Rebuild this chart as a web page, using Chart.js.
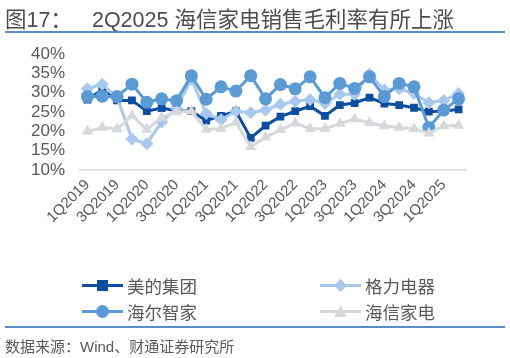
<!DOCTYPE html>
<html>
<head>
<meta charset="utf-8">
<script src="https://cdn.jsdelivr.net/npm/chart.js@4"></script>
<style>
  body { margin: 0; background: #fff; }
  #wrap { position: relative; width: 510px; height: 358px; overflow: hidden;
          font-family: "Liberation Sans", Arial, "Noto Sans CJK SC", sans-serif; color: #595959; }
  #myChart { position: absolute; left: 0; top: 0; }
  .title { position: absolute; left: 5px; top: 2px; font-size: 21.5px; white-space: nowrap; color: #4d4d4d; }
  .title span { margin-left: 20px; }
  .rule { position: absolute; left: 5px; width: 500px; height: 2px; background: #5B8CC8; }
  .source { position: absolute; left: 5px; top: 335px; font-size: 15px; white-space: nowrap; }
  .leg { position: absolute; display: flex; align-items: center; font-size: 17.5px; white-space: nowrap; }
  .leg svg { margin-right: 4px; }
</style>
</head>
<body>
<div id="wrap">
  <canvas id="myChart" width="510" height="358"></canvas>
  <div class="title">图17：<span>2Q2025 海信家电销售毛利率有所上涨</span></div>
  <div class="rule" style="top:31px"></div>
  <div id="legend"></div>
  <div class="rule" style="top:326px"></div>
  <div class="source">数据来源：Wind、财通证券研究所</div>
</div>
<script>
  const quarters = ['1Q2019','2Q2019','3Q2019','4Q2019','1Q2020','2Q2020','3Q2020','4Q2020',
                    '1Q2021','2Q2021','3Q2021','4Q2021','1Q2022','2Q2022','3Q2022','4Q2022',
                    '1Q2023','2Q2023','3Q2023','4Q2023','1Q2024','2Q2024','3Q2024','4Q2024',
                    '1Q2025','2Q2025'];

  const midea   = [28.2, 30.8, 28.0, 28.0, 25.2, 26.0, 25.3, 25.2, 22.8, 24.0, 25.2, 18.3, 21.5,
                   23.8, 25.2, 26.5, 24.0, 26.8, 27.3, 28.7, 27.2, 26.8, 26.1, 25.1, 25.2, 25.7];
  const gree    = [31.0, 32.2, 28.8, 18.0, 16.8, 22.4, 26.0, 33.5, 24.6, 23.0, 25.2, 24.8, 25.5,
                   27.0, 27.7, 28.2, 27.2, 29.6, 29.6, 34.8, 30.7, 31.0, 29.8, 27.4, 28.0, 29.8];
  const haier   = [29.0, 29.1, 29.0, 32.2, 27.5, 28.4, 27.9, 34.4, 28.3, 31.5, 30.4, 34.4, 28.4,
                   32.1, 31.0, 34.1, 28.7, 32.4, 31.1, 34.1, 29.0, 32.4, 31.5, 21.0, 25.5, 28.4];
  const hisense = [20.0, 21.0, 20.6, 24.0, 20.5, 23.6, 25.0, 25.2, 20.5, 20.7, 22.3, 16.0, 18.5,
                   20.4, 22.1, 20.7, 20.7, 22.0, 23.2, 22.2, 21.4, 21.0, 20.7, 19.5, 21.4, 21.5];

  const yTicks = [10, 15, 20, 25, 30, 35, 40];

  const series = [
    { name: '美的集团', data: midea,   color: '#0B4EA2', shape: 'rect',     radius: 5.5, order: 4 },
    { name: '格力电器', data: gree,    color: '#A9C8EE', shape: 'rectRot',  radius: 6.5, order: 3 },
    { name: '海尔智家', data: haier,   color: '#5B9BD5', shape: 'circle',   radius: 6.5, order: 2 },
    { name: '海信家电', data: hisense, color: '#D6D9DC', shape: 'triangle', radius: 6.5, order: 1 }
  ];

  const fontFam = '"Liberation Sans", Arial, "Noto Sans CJK SC", sans-serif';

  const ctx = document.getElementById('myChart');
  new Chart(ctx, {
    type: 'line',
    data: {
      labels: quarters,
      datasets: series.map(s => ({
        label: s.name,
        data: s.data,
        borderColor: s.color,
        backgroundColor: s.color,
        borderWidth: 3,
        pointStyle: s.shape,
        pointRadius: s.radius,
        pointBorderWidth: 0,
        order: s.order,
        tension: 0
      }))
    },
    options: {
      responsive: false,
      animation: false,
      layout: { padding: { top: 54, right: 44, bottom: 118, left: 0 } },
      plugins: { legend: { display: false }, tooltip: { enabled: false } },
      scales: {
        x: {
          offset: true,
          grid: { display: false, drawTicks: false },
          border: { display: true, color: '#D9D9D9', width: 1.5 },
          ticks: {
            autoSkip: false, maxRotation: 45, minRotation: 45, padding: 6,
            color: '#595959', font: { size: 15, family: fontFam },
            callback: function (v, i) { return i % 2 === 0 ? this.getLabelForValue(v) : ''; }
          },
          afterFit: (s) => { s.height = 70; }
        },
        y: {
          min: 10, max: 40,
          afterBuildTicks: (s) => { s.ticks = yTicks.map(v => ({ value: v })); },
          ticks: { autoSkip: false, padding: 15, color: '#595959', font: { size: 17, family: fontFam },
                   callback: v => v + '%' },
          grid: { display: false, drawTicks: false },
          border: { display: false },
          afterFit: (s) => { s.width = 80; }
        }
      }
    }
  });

  // html legend, two columns
  const legendPos = [[82, 273], [320, 273], [82, 299], [320, 299]];
  const marker = (s) => {
    const c = s.color;
    if (s.shape === 'rect') return `<rect x="15" y="2" width="11" height="11" fill="${c}"/>`;
    if (s.shape === 'rectRot') return `<polygon points="20.5,1 27,7.5 20.5,14 14,7.5" fill="${c}"/>`;
    if (s.shape === 'circle') return `<circle cx="20.5" cy="7.5" r="6.5" fill="${c}"/>`;
    return `<polygon points="20.5,1.5 27,13 14,13" fill="${c}"/>`;
  };
  const legendEl = document.getElementById('legend');
  series.forEach((s, i) => {
    const d = document.createElement('div');
    d.className = 'leg';
    d.style.left = legendPos[i][0] + 'px';
    d.style.top = legendPos[i][1] + 'px';
    d.innerHTML = `<svg width="41" height="15"><line x1="0" y1="7.5" x2="41" y2="7.5" stroke="${s.color}" stroke-width="3"/>${marker(s)}</svg>${s.name}`;
    legendEl.appendChild(d);
  });
</script>
</body>
</html>
